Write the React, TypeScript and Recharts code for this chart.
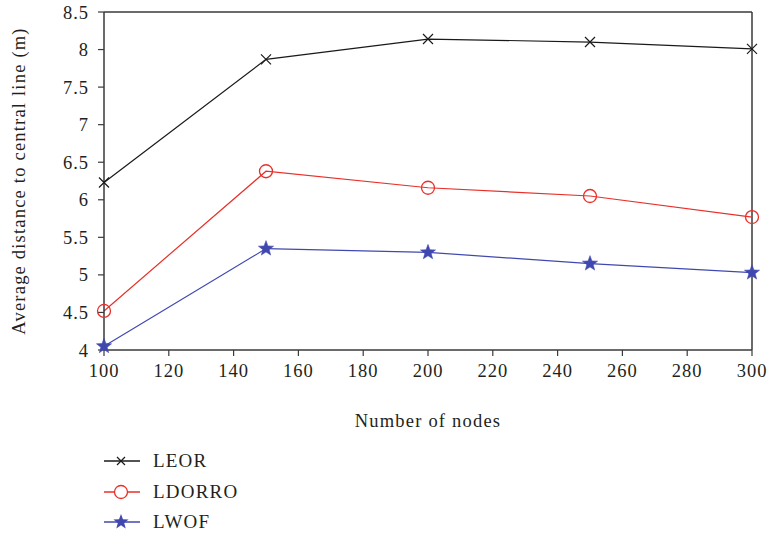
import React from "react";
import { LineChart, Line, XAxis, YAxis, ReferenceLine } from "recharts";

const nodes = [100, 150, 200, 250, 300];
const leor = [6.23, 7.87, 8.14, 8.1, 8.01];
const ldorro = [4.52, 6.38, 6.16, 6.05, 5.77];
const lwof = [4.05, 5.35, 5.3, 5.15, 5.03];
const xTicks = [100, 120, 140, 160, 180, 200, 220, 240, 260, 280, 300];
const yTicks = [4, 4.5, 5, 5.5, 6, 6.5, 7, 7.5, 8, 8.5];
const seriesNames = ["LEOR", "LDORRO", "LWOF"];

const data = nodes.map((n, i) => ({ n, LEOR: leor[i], LDORRO: ldorro[i], LWOF: lwof[i] }));

const FONT = "'Liberation Serif', serif";
const TXT = "#231f20";
const BLACK = "#1a1a1a";
const RED = "#e8302a";
const BLUE = "#4048b0";

const starPath = (cx: number, cy: number, R: number) => {
  const r = R * 0.42;
  let d = "";
  for (let i = 0; i < 10; i++) {
    const ang = -Math.PI / 2 + (i * Math.PI) / 5;
    const rad = i % 2 === 0 ? R : r;
    d += (i === 0 ? "M" : "L") + (cx + rad * Math.cos(ang)).toFixed(2) + "," + (cy + rad * Math.sin(ang)).toFixed(2);
  }
  return d + "Z";
};

const CrossDot = (p: any) => {
  const { cx, cy } = p;
  if (cx == null || cy == null) return null;
  const s = 5;
  return (
    <g key={p.key}>
      <path d={`M${cx - s},${cy - s}L${cx + s},${cy + s}M${cx - s},${cy + s}L${cx + s},${cy - s}`} stroke={BLACK} strokeWidth={1.2} />
    </g>
  );
};
const CircleDot = (p: any) => {
  const { cx, cy } = p;
  if (cx == null || cy == null) return null;
  return <circle key={p.key} cx={cx} cy={cy} r={6.5} fill="none" stroke={RED} strokeWidth={1.3} />;
};
const StarDot = (p: any) => {
  const { cx, cy } = p;
  if (cx == null || cy == null) return null;
  return <path key={p.key} d={starPath(cx, cy, 8)} fill={BLUE} stroke={BLUE} strokeWidth={0.5} />;
};

const legendIcon = (i: number) => {
  const col = [BLACK, RED, BLUE][i];
  return (
    <svg width={36} height={20} style={{ display: "block" }}>
      <line x1={0} y1={10} x2={36} y2={10} stroke={col} strokeWidth={1.3} />
      {i === 0 && <path d="M13,6L21,14M13,14L21,6" stroke={BLACK} strokeWidth={1.2} />}
      {i === 1 && <circle cx={17} cy={10} r={6.5} fill="white" stroke={RED} strokeWidth={1.3} />}
      {i === 2 && <path d={starPath(17, 10, 8)} fill={BLUE} />}
    </svg>
  );
};

export default function App() {
  const tickStyle = { fontFamily: FONT, fontSize: 18.5, fill: TXT, letterSpacing: 1 };
  return (
    <div style={{ position: "absolute", left: 0, top: 0, width: 768, height: 533, background: "#fff" }}>
      <LineChart width={768} height={533} data={data} margin={{ top: 12, right: 16, left: 0, bottom: 106 }}>
        <XAxis
          dataKey="n"
          type="number"
          domain={[100, 300]}
          ticks={xTicks}
          interval={0}
          tickSize={6}
          tickMargin={8}
          height={77}
          stroke="#3a3a3a"
          strokeWidth={1.5}
          tick={tickStyle}
          tickLine={{ stroke: "#3a3a3a", strokeWidth: 1.2 }}
          label={{ value: "Number of nodes", position: "insideBottom", offset: 0, style: { fontFamily: FONT, fontSize: 18.5, fill: TXT, letterSpacing: 1.2 } }}
        />
        <YAxis
          type="number"
          domain={[4, 8.5]}
          ticks={yTicks}
          interval={0}
          width={104}
          tickSize={6}
          tickMargin={9}
          stroke="#3a3a3a"
          strokeWidth={1.5}
          tick={tickStyle}
          tickLine={{ stroke: "#3a3a3a", strokeWidth: 1.2 }}
          label={{ value: "Average distance to central line (m)", angle: -90, position: "insideLeft", offset: 18, style: { fontFamily: FONT, fontSize: 18.5, fill: TXT, letterSpacing: 1.2, textAnchor: "middle" } }}
        />
        <ReferenceLine y={8.5} stroke="#3a3a3a" strokeWidth={1.5} ifOverflow="visible" />
        <ReferenceLine x={300} stroke="#3a3a3a" strokeWidth={1.5} ifOverflow="visible" />
        <Line dataKey="LEOR" stroke={BLACK} strokeWidth={1.2} dot={CrossDot} activeDot={false} isAnimationActive={false} />
        <Line dataKey="LDORRO" stroke={RED} strokeWidth={1.2} dot={CircleDot} activeDot={false} isAnimationActive={false} />
        <Line dataKey="LWOF" stroke={BLUE} strokeWidth={1.2} dot={StarDot} activeDot={false} isAnimationActive={false} />
      </LineChart>
      <div style={{ position: "absolute", left: 104, top: 446 }}>
        {seriesNames.map((name, i) => (
          <div key={name} style={{ display: "flex", alignItems: "center", height: 30.5 }}>
            {legendIcon(i)}
            <span style={{ marginLeft: 13, fontFamily: FONT, fontSize: 19, color: TXT, letterSpacing: 1.2 }}>{name}</span>
          </div>
        ))}
      </div>
    </div>
  );
}
